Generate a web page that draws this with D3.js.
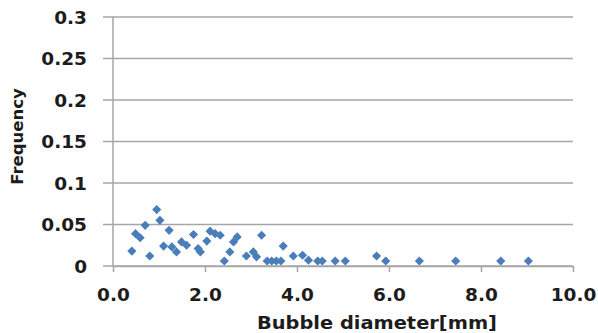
<!DOCTYPE html>
<html>
<head>
<meta charset="utf-8">
<script src="https://cdn.jsdelivr.net/npm/d3@7"></script>
<style>
  html, body { margin: 0; padding: 0; background: #fff; }
  text { font-family: "DejaVu Sans", sans-serif; font-weight: bold; fill: #1c1c1c; }
</style>
</head>
<body>
<div id="chart"></div>
<script>
// bubble diameter [mm] and frequency
const diameter = [
  0.41, 0.49, 0.59, 0.70, 0.80, 0.95, 1.02, 1.10, 1.22, 1.28,
  1.38, 1.49, 1.60, 1.75, 1.85, 1.90, 2.04, 2.11, 2.22, 2.33,
  2.42, 2.54, 2.62, 2.70, 2.90, 3.05, 3.12, 3.23, 3.35, 3.45,
  3.55, 3.65, 3.70, 3.92, 4.12, 4.25, 4.45, 4.55, 4.83, 5.05,
  5.73, 5.93, 6.66, 7.45, 8.43, 9.03
];
const frequency = [
  0.018, 0.039, 0.034, 0.049, 0.012, 0.068, 0.055, 0.024, 0.043, 0.023,
  0.017, 0.029, 0.025, 0.038, 0.021, 0.017, 0.030, 0.042, 0.039, 0.037,
  0.006, 0.017, 0.029, 0.035, 0.012, 0.017, 0.011, 0.037, 0.006, 0.006,
  0.006, 0.006, 0.024, 0.012, 0.013, 0.007, 0.006, 0.006, 0.006, 0.006,
  0.012, 0.006, 0.006, 0.006, 0.006, 0.006
];
const xTicks = [0, 2, 4, 6, 8, 10];
const yTicks = [0, 0.05, 0.1, 0.15, 0.2, 0.25, 0.3];

const width = 598, height = 333;
const margin = { top: 17, right: 25, bottom: 67, left: 113 };

const svg = d3.select("#chart").append("svg")
  .attr("width", width)
  .attr("height", height);

const x = d3.scaleLinear().domain([0, 10]).range([margin.left, width - margin.right]);
const y = d3.scaleLinear().domain([0, 0.3]).range([height - margin.bottom, margin.top]);

// horizontal gridlines (extend left as the tick marks)
svg.append("g")
  .selectAll("line")
  .data(yTicks)
  .join("line")
  .attr("x1", margin.left - 10)
  .attr("x2", x(10))
  .attr("y1", d => y(d))
  .attr("y2", d => y(d))
  .attr("stroke", "#a6a6a6")
  .attr("stroke-width", 1.5);

// y axis line
svg.append("line")
  .attr("x1", x(0)).attr("x2", x(0))
  .attr("y1", y(0.3)).attr("y2", y(0))
  .attr("stroke", "#a6a6a6")
  .attr("stroke-width", 1.5);

// x axis with ticks down
const xAxis = d3.axisBottom(x)
  .tickValues(xTicks)
  .tickSize(6)
  .tickSizeOuter(0)
  .tickFormat(d3.format(".1f"));

const gx = svg.append("g")
  .attr("transform", `translate(0,${y(0)})`)
  .call(xAxis);
gx.selectAll("path, line").attr("stroke", "#a6a6a6").attr("stroke-width", 1.5);
gx.selectAll("text")
  .attr("y", 28)
  .attr("dy", "0.36em")
  .style("font-size", "18.5px")
  .attr("fill", null);
gx.attr("font-family", null).attr("font-size", null);

// y tick labels
svg.append("g")
  .selectAll("text")
  .data(yTicks)
  .join("text")
  .attr("x", 87)
  .attr("y", d => y(d))
  .attr("dy", "0.36em")
  .attr("text-anchor", "end")
  .style("font-size", "18.5px")
  .text(d => d === 0 ? "0" : String(d));

// axis titles
svg.append("text")
  .attr("x", 377)
  .attr("y", 329)
  .attr("text-anchor", "middle")
  .style("font-size", "18.5px")
  .attr("textLength", 240)
  .attr("lengthAdjust", "spacingAndGlyphs")
  .text("Bubble diameter[mm]");

svg.append("text")
  .attr("transform", `translate(23,${(y(0) + y(0.3)) / 2 - 5}) rotate(-90)`)
  .attr("text-anchor", "middle")
  .style("font-size", "16.5px")
  .text("Frequency");

// diamond markers
const diamond = d3.symbol().type(d3.symbolSquare).size(42);
svg.append("g")
  .selectAll("path")
  .data(diameter.map((d, i) => ({ d, f: frequency[i] })))
  .join("path")
  .attr("d", diamond)
  .attr("transform", p => `translate(${x(p.d)},${y(p.f)}) rotate(45)`)
  .attr("fill", "#4a7ebb");
</script>
</body>
</html>
